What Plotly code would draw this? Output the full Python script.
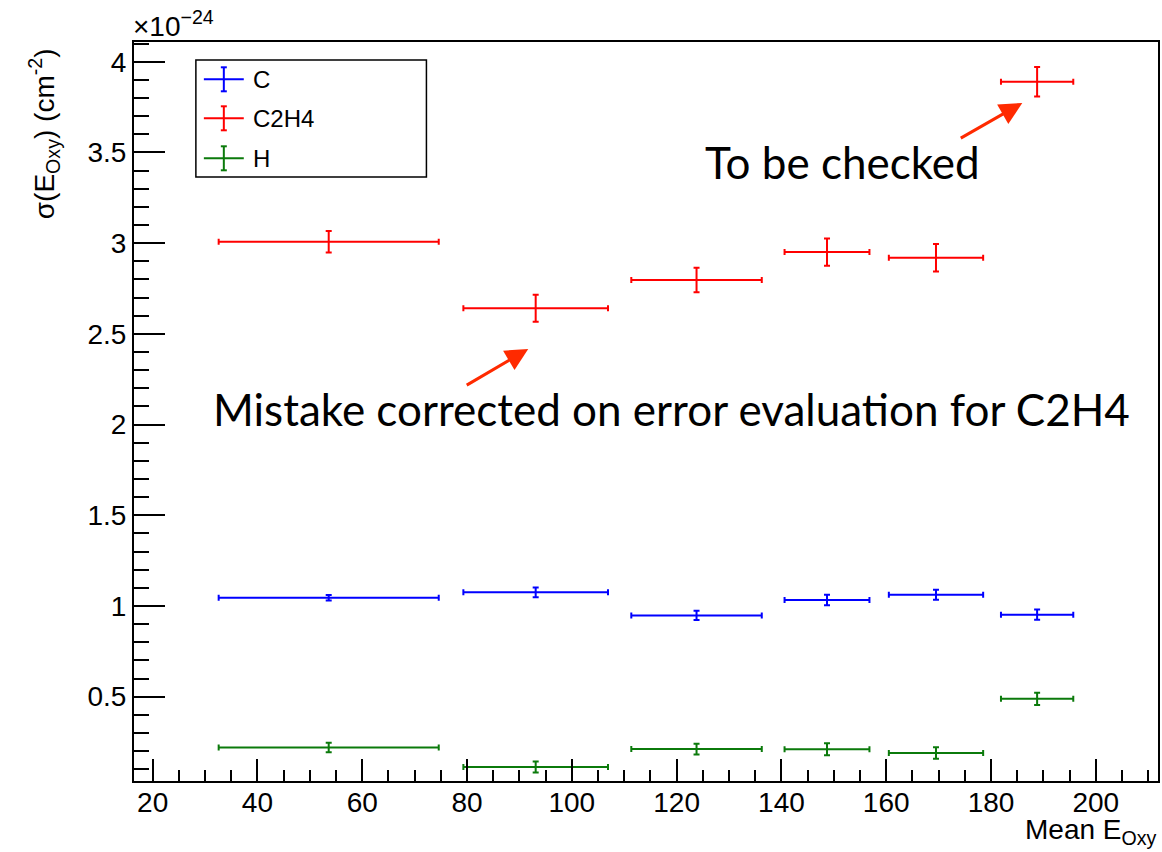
import plotly.graph_objects as go

# Mean oxygen energy per bin (centre) and half bin width
e_mean = [53.6, 93.1, 123.8, 148.7, 169.5, 188.8]
e_half = [21.0, 13.8, 12.45, 8.1, 9.0, 6.9]

# Cross sections in units of 1e-24 cm^2 with statistical errors
sigma_c = [1.045, 1.075, 0.948, 1.033, 1.062, 0.952]
err_c = [0.015, 0.027, 0.026, 0.029, 0.028, 0.028]

sigma_c2h4 = [3.008, 2.641, 2.797, 2.951, 2.920, 3.890]
err_c2h4 = [0.059, 0.074, 0.068, 0.075, 0.076, 0.081]

sigma_h = [0.220, 0.112, 0.211, 0.210, 0.189, 0.488]
err_h = [0.026, 0.030, 0.030, 0.033, 0.032, 0.034]

series = [
    ("C", sigma_c, err_c, "#0000ff"),
    ("C2H4", sigma_c2h4, err_c2h4, "#ff0000"),
    ("H", sigma_h, err_h, "#0b7a0b"),
]

W, H = 1162, 852
L, R, T, B = 134, 2, 42, 71
PW, PH = W - L - R, H - T - B


def px(x):
    return (x - L) / PW


def py(y):
    return (H - B - y) / PH


fig = go.Figure()
for name, vals, errs, col in series:
    fig.add_trace(go.Scatter(
        x=e_mean, y=vals, name=name, mode="markers",
        marker=dict(size=0, color=col, opacity=0),
        error_x=dict(type="data", array=e_half, color=col, thickness=2, width=3),
        error_y=dict(type="data", array=errs, color=col, thickness=2, width=3),
        showlegend=False,
    ))

axis_font = dict(family="Liberation Sans, Arial, sans-serif", size=28, color="black")

fig.update_xaxes(
    range=[16.44, 211.87], tick0=20, dtick=20, ticks="inside", ticklen=22,
    tickwidth=2, tickcolor="black", showline=True, linewidth=2, linecolor="black",
    mirror=True, showgrid=False, zeroline=False, tickfont=axis_font,
    ticklabelstandoff=-5,
    minor=dict(dtick=5, ticks="inside", ticklen=11, tickwidth=2, tickcolor="black", showgrid=False),
)
fig.update_yaxes(
    range=[0.035, 4.109], tick0=0, dtick=0.5, ticks="inside", ticklen=31,
    tickwidth=2, tickcolor="black", showline=True, linewidth=2, linecolor="black",
    mirror=True, showgrid=False, zeroline=False, tickfont=axis_font,
    minor=dict(dtick=0.1, ticks="inside", ticklen=15, tickwidth=2, tickcolor="black", showgrid=False),
)

shapes = []
annotations = []

# Legend box with error-bar symbols
shapes.append(dict(type="rect", xref="paper", yref="paper",
                   x0=px(196), x1=px(427), y0=py(177), y1=py(60),
                   line=dict(color="black", width=1.5), fillcolor="white", layer="above"))
legend_rows = [79.3, 118.3, 158.3]
for (name, _, _, col), yc in zip(series, legend_rows):
    line = dict(color=col, width=2)
    shapes.append(dict(type="line", xref="paper", yref="paper",
                       x0=px(204), x1=px(244), y0=py(yc), y1=py(yc), line=line))
    shapes.append(dict(type="line", xref="paper", yref="paper",
                       x0=px(224), x1=px(224), y0=py(yc - 12), y1=py(yc + 12), line=line))
    for yy in (yc - 12, yc + 12):
        shapes.append(dict(type="line", xref="paper", yref="paper",
                           x0=px(221), x1=px(227), y0=py(yy), y1=py(yy), line=line))
    annotations.append(dict(text=name, xref="paper", yref="paper", x=px(251), y=py(yc),
                            xanchor="left", yanchor="middle", showarrow=False,
                            font=dict(family="Liberation Sans, Arial", size=24, color="black")))

# Axis titles and exponent
annotations.append(dict(text="σ(E<sub>Oxy</sub>) (cm<sup>-2</sup>)", textangle=-90,
                        xref="paper", yref="paper", x=px(44), y=py(134),
                        xanchor="center", yanchor="middle", showarrow=False, font=axis_font))
annotations.append(dict(text="×10<sup>−24</sup>", xref="paper", yref="paper",
                        x=px(131), y=py(44), xanchor="left", yanchor="bottom",
                        showarrow=False, font=axis_font))
annotations.append(dict(text="Mean E<sub>Oxy</sub>", xref="paper", yref="paper",
                        x=px(1161), y=py(812), xanchor="right", yanchor="top",
                        showarrow=False, font=axis_font))

# Comments on the plot
note_font = dict(family="Lato, Open Sans, sans-serif", size=44, color="black")
annotations.append(dict(text="Mistake corrected on error evaluation for C2H4",
                        xref="paper", yref="paper", x=px(211), y=py(409),
                        xanchor="left", yanchor="middle", showarrow=False, font=note_font))
annotations.append(dict(text="To be checked", xref="paper", yref="paper",
                        x=px(704), y=py(162), xanchor="left", yanchor="middle",
                        showarrow=False, font=note_font))
arrow_col = "#ff2a00"
for tip, tail in [((529, 349), (466, 386)), ((1024, 103), (961, 139))]:
    annotations.append(dict(text="", xref="paper", yref="paper",
                            x=px(tip[0]), y=py(tip[1]),
                            ax=tail[0] - tip[0], ay=tail[1] - tip[1],
                            axref="pixel", ayref="pixel",
                            showarrow=True, arrowhead=2, arrowsize=1.5,
                            arrowwidth=3, arrowcolor=arrow_col))

fig.update_layout(
    width=W, height=H, margin=dict(l=L, r=R, t=T, b=B),
    paper_bgcolor="white", plot_bgcolor="white",
    shapes=shapes, annotations=annotations, showlegend=False,
)

fig.write_html("out.html")
